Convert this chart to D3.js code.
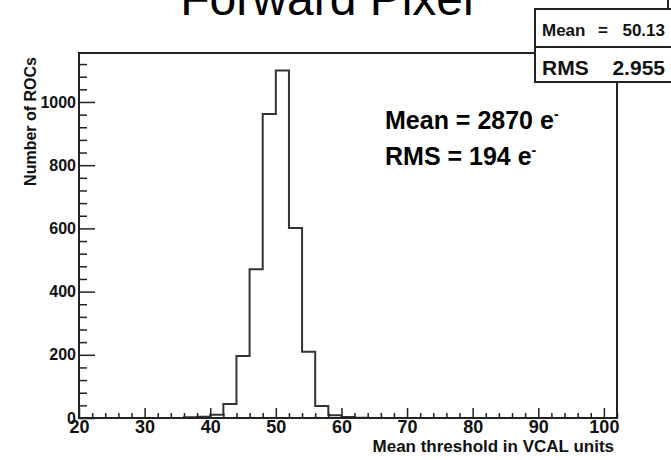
<!DOCTYPE html>
<html>
<head>
<meta charset="utf-8">
<script src="https://cdn.jsdelivr.net/npm/d3@7"></script>
<style>
    body { margin: 0; background: #fff; }
    svg { display: block; font-family: "Liberation Sans", Arial, Helvetica, sans-serif; }
    .tick line { stroke: #222; stroke-width: 1.5; }
    .domain { display: none; }
</style>
</head>
<body>
<script>
const w = 671; // width
const h = 460; // height
const pLeft = 79, pRight = 617, pTop = 53, pBottom = 418; // plot frame

// histogram: bins of width 2 starting at 20
const binLow = [20, 22, 24, 26, 28, 30, 32, 34, 36, 38, 40, 42, 44, 46, 48, 50, 52, 54, 56, 58,
    60, 62, 64, 66, 68, 70, 72, 74, 76, 78, 80, 82, 84, 86, 88, 90, 92, 94, 96, 98, 100];
const counts = [0, 0, 0, 0, 0, 0, 0, 0, 2, 4, 10, 44, 196, 471, 962, 1100, 601, 210, 38, 9,
    3, 1, 0, 0, 0, 0, 0, 0, 0, 0, 0, 0, 0, 0, 0, 0, 0, 0, 0, 0, 0];
const binWidth = 2;

const xMajor = [20, 30, 40, 50, 60, 70, 80, 90, 100];
const yMajor = [0, 200, 400, 600, 800, 1000];

const title = "Forward Pixel";
const statsMean = "50.13";
const statsRms = "2.955";

let svg = d3.select("body")
    .append("svg")
    .attr('width', w)
    .attr('height', h);

// scales
let x = d3.scaleLinear().domain([20, 102]).range([pLeft, pRight]);
let y = d3.scaleLinear().domain([0, 1155]).range([pBottom, pTop]);

// minor ticks
let xMinor = d3.range(20, 102.01, 2).filter(v => !xMajor.includes(v));
let yMinor = d3.range(0, 1155, 40).filter(v => !yMajor.includes(v));

// histogram outline
let pts = [[binLow[0], 0]];
binLow.forEach((b, i) => {
    pts.push([b, counts[i]]);
    pts.push([b + binWidth, counts[i]]);
});
pts.push([binLow[binLow.length - 1] + binWidth, 0]);

let line = d3.line()
    .x(d => x(d[0]))
    .y(d => y(d[1]));

svg.append("path")
    .datum(pts)
    .attr("d", line)
    .attr("fill", "none")
    .attr("stroke", "#333")
    .attr("stroke-width", 2);

// x axis (ticks pointing inwards)
svg.append("g")
    .attr('transform', `translate(0,${pBottom})`)
    .call(d3.axisBottom(x).tickValues(xMinor).tickSize(-5).tickFormat(""));
svg.append("g")
    .attr('transform', `translate(0,${pBottom})`)
    .call(d3.axisBottom(x).tickValues(xMajor).tickSize(-10).tickPadding(2).tickFormat(d3.format("d")))
    .selectAll("text")
    .attr("fill", "#111")
    .style("font-size", "18px")
    .style("font-weight", "bold");

// y axis
svg.append("g")
    .attr('transform', `translate(${pLeft},0)`)
    .call(d3.axisLeft(y).tickValues(yMinor).tickSize(-8).tickFormat(""));
svg.append("g")
    .attr('transform', `translate(${pLeft},0)`)
    .call(d3.axisLeft(y).tickValues(yMajor).tickSize(-16).tickPadding(3).tickFormat(d3.format("d")))
    .selectAll("text")
    .attr("fill", "#111")
    .style("font-size", "16px")
    .style("font-weight", "bold");

// frame
svg.append("rect")
    .attr("x", pLeft)
    .attr("y", pTop)
    .attr("width", pRight - pLeft)
    .attr("height", pBottom - pTop)
    .attr("fill", "none")
    .attr("stroke", "#222")
    .attr("stroke-width", 2);

// title (cut off at the top, as in the original)
svg.append("text")
    .attr("x", 327)
    .attr("y", 15)
    .attr("text-anchor", "middle")
    .style("font-size", "48px")
    .text(title);

// axis labels
svg.append("text")
    .attr("text-anchor", "end")
    .attr("x", 614)
    .attr("y", 452)
    .style("font-size", "17px")
    .style("font-weight", "bold")
    .attr("fill", "#111")
    .text("Mean threshold in VCAL units");

svg.append("text")
    .attr("text-anchor", "end")
    .attr("transform", "translate(36,57) rotate(-90)")
    .style("font-size", "16px")
    .style("font-weight", "bold")
    .attr("fill", "#111")
    .text("Number of ROCs");

// annotation
let note = svg.append("g")
    .style("font-size", "25px")
    .style("font-weight", "bold");
let t1 = note.append("text").attr("x", 385).attr("y", 129);
t1.append("tspan").text("Mean = 2870 e");
t1.append("tspan").attr("dy", -10).style("font-size", "14px").text("-");
let t2 = note.append("text").attr("x", 385).attr("y", 165);
t2.append("tspan").text("RMS = 194 e");
t2.append("tspan").attr("dy", -10).style("font-size", "14px").text("-");

// stats box
svg.append("line")
    .attr("x1", 668).attr("x2", 668).attr("y1", 0).attr("y2", 9)
    .attr("stroke", "#222").attr("stroke-width", 2);
svg.append("rect")
    .attr("x", 535).attr("y", 9)
    .attr("width", 140).attr("height", 73)
    .attr("fill", "#fff")
    .attr("stroke", "#222").attr("stroke-width", 2);
svg.append("line")
    .attr("x1", 535).attr("x2", 675).attr("y1", 47).attr("y2", 47)
    .attr("stroke", "#222").attr("stroke-width", 2);

let stats = svg.append("g").style("font-weight", "bold").attr("fill", "#111");
stats.append("text").attr("x", 542).attr("y", 36).style("font-size", "17px").text("Mean");
stats.append("text").attr("x", 598).attr("y", 36).style("font-size", "17px").text("=");
stats.append("text").attr("x", 665).attr("y", 36).attr("text-anchor", "end").style("font-size", "17px").text(statsMean);
stats.append("text").attr("x", 542).attr("y", 75).style("font-size", "21px").text("RMS");
stats.append("text").attr("x", 665).attr("y", 75).attr("text-anchor", "end").style("font-size", "21px").text(statsRms);
</script>
</body>
</html>
